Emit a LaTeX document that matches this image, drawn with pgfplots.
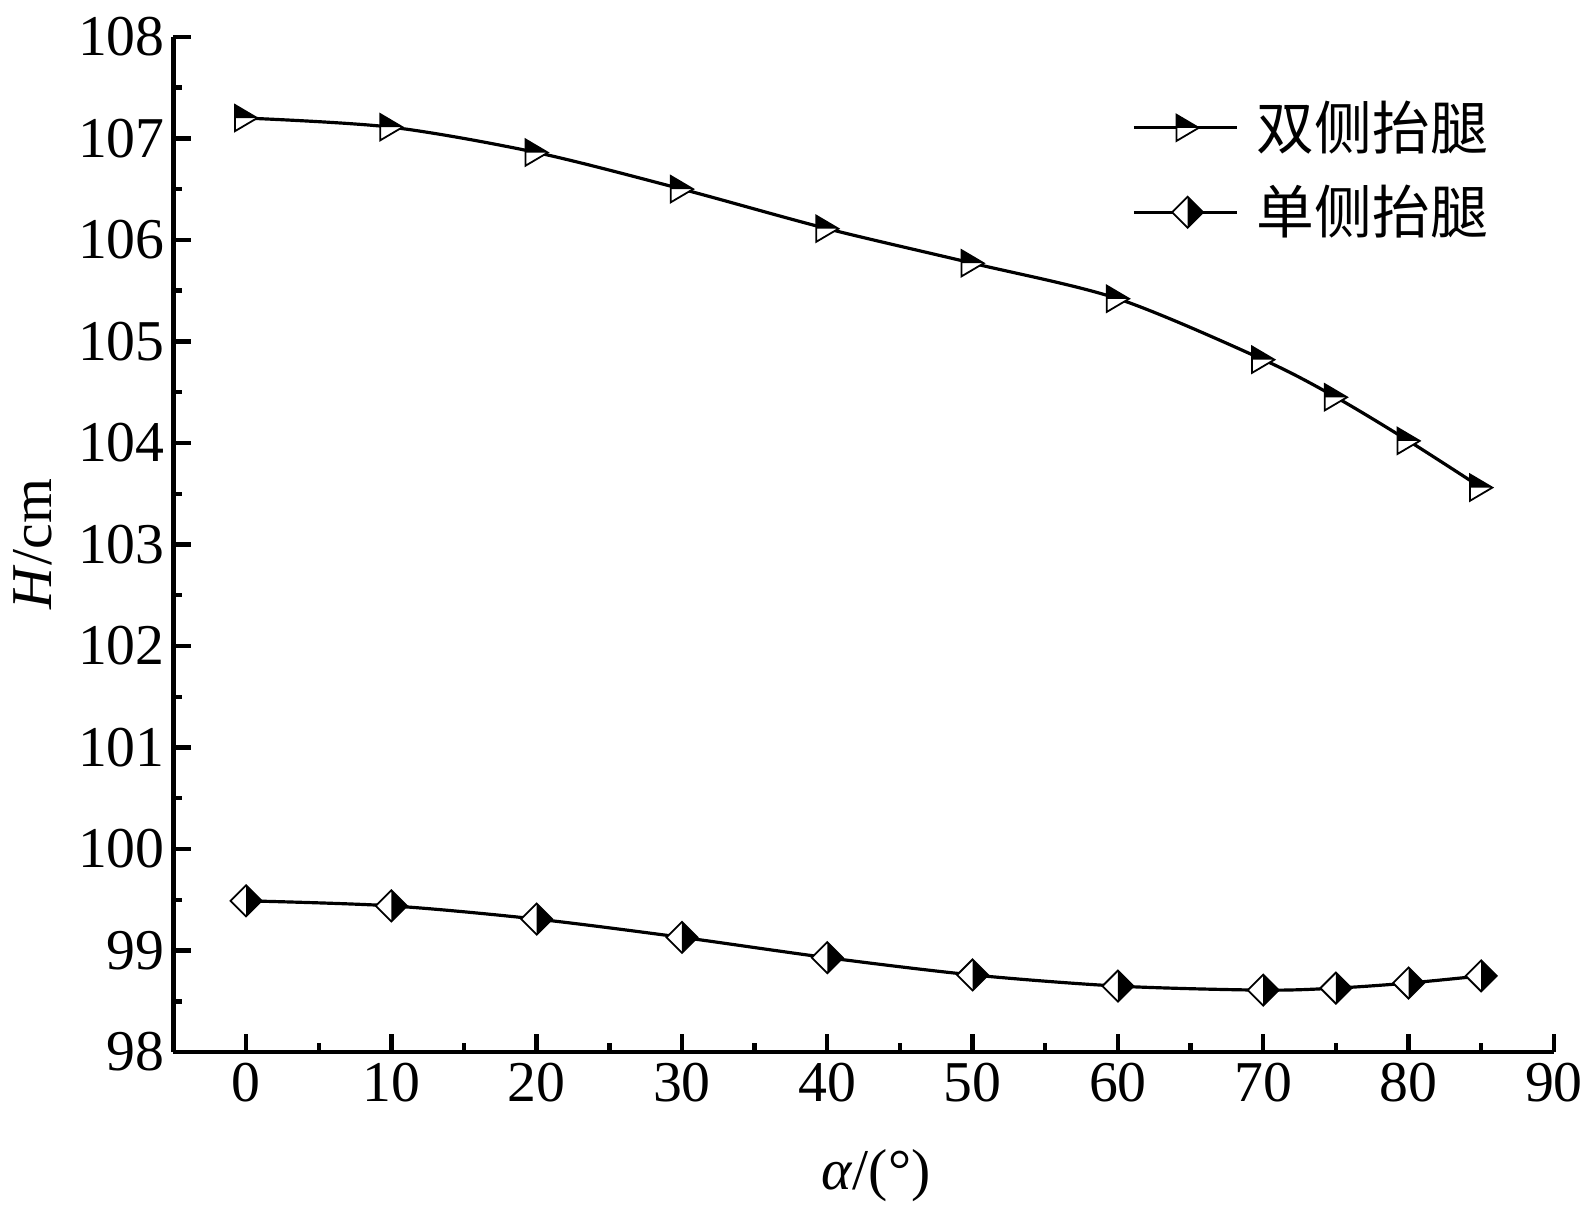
\documentclass[border=0pt]{standalone}
\usepackage{pgfplots}
\pgfplotsset{compat=1.18}
\usepackage{fontspec}
\setmainfont{Liberation Serif}
\newfontfamily\cjk{Noto Sans CJK SC}

\pgfdeclareplotmark{htri}{%
  \pgfsetlinewidth{0.45pt}%
  \pgfpathmoveto{\pgfqpoint{-2.8pt}{3.3pt}}\pgfpathlineto{\pgfqpoint{2.8pt}{0pt}}\pgfpathlineto{\pgfqpoint{-2.8pt}{-3.3pt}}\pgfpathclose
  \pgfsetfillcolor{white}\pgfusepath{fill}%
  \pgfpathmoveto{\pgfqpoint{-2.8pt}{3.3pt}}\pgfpathlineto{\pgfqpoint{2.8pt}{0pt}}\pgfpathlineto{\pgfqpoint{-2.8pt}{0pt}}\pgfpathclose
  \pgfsetfillcolor{black}\pgfusepath{fill}%
  \pgfpathmoveto{\pgfqpoint{-2.8pt}{3.3pt}}\pgfpathlineto{\pgfqpoint{2.8pt}{0pt}}\pgfpathlineto{\pgfqpoint{-2.8pt}{-3.3pt}}\pgfpathclose
  \pgfusepath{stroke}}

\pgfdeclareplotmark{hdia}{%
  \pgfsetlinewidth{0.45pt}%
  \pgfpathmoveto{\pgfqpoint{0pt}{3.9pt}}\pgfpathlineto{\pgfqpoint{3.9pt}{0pt}}\pgfpathlineto{\pgfqpoint{0pt}{-3.9pt}}\pgfpathlineto{\pgfqpoint{-3.9pt}{0pt}}\pgfpathclose
  \pgfsetfillcolor{white}\pgfusepath{fill}%
  \pgfpathmoveto{\pgfqpoint{0pt}{3.9pt}}\pgfpathlineto{\pgfqpoint{3.9pt}{0pt}}\pgfpathlineto{\pgfqpoint{0pt}{-3.9pt}}\pgfpathclose
  \pgfsetfillcolor{black}\pgfusepath{fill}%
  \pgfpathmoveto{\pgfqpoint{0pt}{3.9pt}}\pgfpathlineto{\pgfqpoint{3.9pt}{0pt}}\pgfpathlineto{\pgfqpoint{0pt}{-3.9pt}}\pgfpathlineto{\pgfqpoint{-3.9pt}{0pt}}\pgfpathclose
  \pgfusepath{stroke}}

\begin{document}
\begin{tikzpicture}
\begin{axis}[
  width=346.75pt, height=255pt, scale only axis,
  xmin=-5, xmax=90, ymin=98, ymax=108,
  axis lines=left, axis line style={-, line width=1.1pt},
  xtick={0,10,...,90}, ytick={98,99,...,108}, minor tick num=1,
  tick align=inside, major tick length=4.5pt, minor tick length=2.2pt,
  every tick/.style={black, line width=1.1pt},
  tick label style={font=\fontsize{14.5}{17}\selectfont},
  yticklabel style={inner xsep=2pt},
  xticklabel style={inner ysep=2.5pt},
  /pgf/number format/assume math mode=true,
  /pgf/number format/1000 sep={},
  clip=false,
  xlabel={\textit{α}/(°)}, ylabel={\textit{H}/cm},
  label style={font=\fontsize{14.5}{17}\selectfont},
  xlabel style={at={(rel axis cs:0.509,-0.1216)}, anchor=center},
  ylabel style={at={(rel axis cs:-0.102,0.5)}, anchor=center},
  legend cell align=left,
  legend style={at={(rel axis cs:0.694,0.938)}, anchor=north west, draw=none, fill=none,
    font=\fontsize{14.5}{17}\selectfont, row sep=7.5pt, inner sep=0pt,
    nodes={inner xsep=4.5pt, inner ysep=0pt}},
  legend image code/.code={\draw[mark repeat=2,mark phase=2,#1] plot coordinates {(0pt,0pt) (13.5pt,0pt) (26pt,0pt)};},
]
\path (rel axis cs:-0.1226,-0.1549) rectangle (rel axis cs:1.0281,1.0363);
\addplot[black, line width=0.8pt, smooth, mark=htri] coordinates {
  (0,107.20) (10,107.11) (20,106.86) (30,106.50) (40,106.11) (50,105.77)
  (60,105.42) (70,104.82) (75,104.45) (80,104.02) (85,103.56)};
\addlegendentry{\cjk 双侧抬腿}
\addplot[black, line width=0.8pt, smooth, mark=hdia] coordinates {
  (0,99.49) (10,99.44) (20,99.31) (30,99.13) (40,98.93) (50,98.76)
  (60,98.65) (70,98.61) (75,98.63) (80,98.68) (85,98.75)};
\addlegendentry{\cjk 单侧抬腿}
\end{axis}
\end{tikzpicture}
\end{document}
